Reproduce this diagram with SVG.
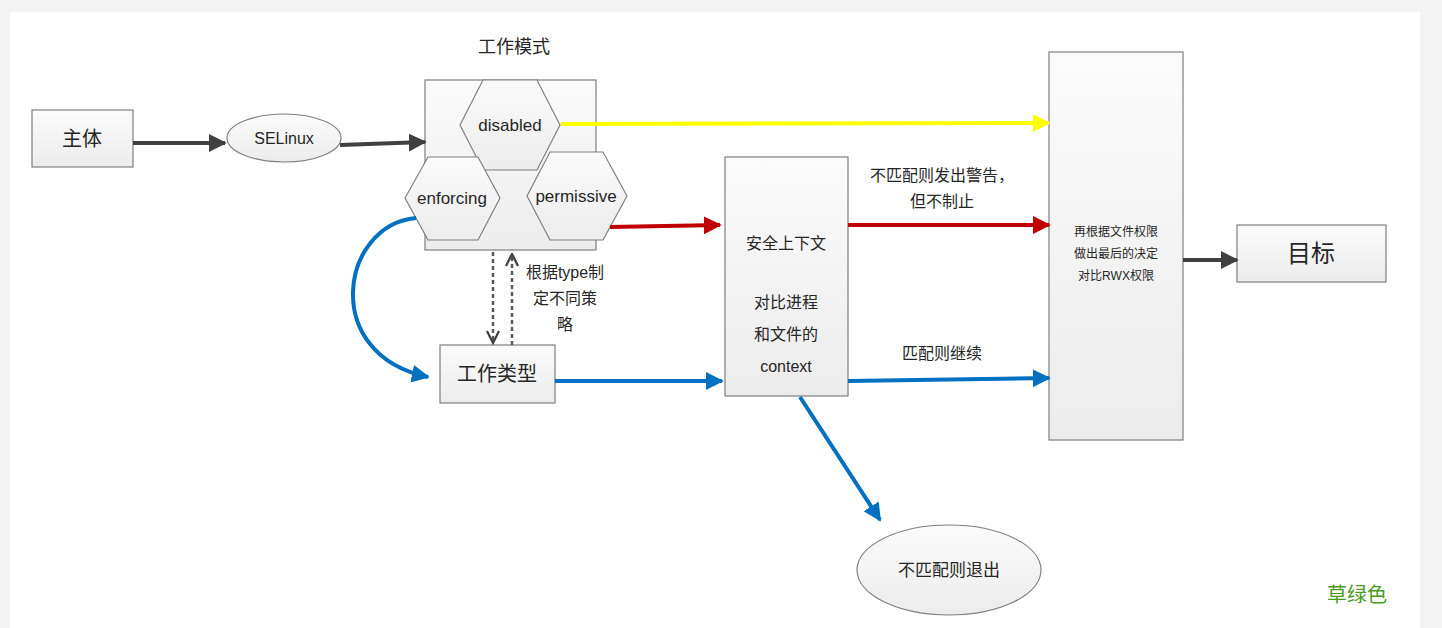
<svg xmlns="http://www.w3.org/2000/svg" width="1442" height="628" viewBox="0 0 1442 628">
<defs>
<linearGradient id="g" x1="0" y1="0" x2="0" y2="1"><stop offset="0" stop-color="#fbfbfb"/><stop offset="1" stop-color="#ececec"/></linearGradient>
<marker id="ak" viewBox="0 0 10 10" refX="9" refY="5" markerWidth="4.5" markerHeight="4.5" orient="auto"><path d="M0,0L10,5L0,10z" fill="#404040"/></marker>
<marker id="ay" viewBox="0 0 10 10" refX="9" refY="5" markerWidth="4.5" markerHeight="4.5" orient="auto"><path d="M0,0L10,5L0,10z" fill="#ffff00"/></marker>
<marker id="ar" viewBox="0 0 10 10" refX="9" refY="5" markerWidth="4.5" markerHeight="4.5" orient="auto"><path d="M0,0L10,5L0,10z" fill="#c00000"/></marker>
<marker id="ab" viewBox="0 0 10 10" refX="9" refY="5" markerWidth="4.5" markerHeight="4.5" orient="auto"><path d="M0,0L10,5L0,10z" fill="#0070c0"/></marker>
<marker id="ao" viewBox="0 0 10 10" refX="9" refY="5" markerWidth="6" markerHeight="6" orient="auto"><path d="M1,1L9,5L1,9" fill="none" stroke="#404040" stroke-width="1.5"/></marker>
</defs>
<style>
.box{fill:url(#g);stroke:#7f7f7f;stroke-width:1.2}
.t{font-family:"Liberation Sans","Noto Sans CJK SC",sans-serif;fill:#262626;text-anchor:middle}
.c{fill:none;stroke-width:4}
</style>
<rect width="1442" height="628" fill="#f3f3f3"/>
<rect x="10" y="12" width="1410" height="616" fill="#fff"/>
<g id="zhuti"><rect class="box" x="32" y="110" width="101" height="57"/><text class="t" x="82" y="146" font-size="20">主体</text></g>
<g id="selinux"><ellipse class="box" cx="284" cy="138" rx="57" ry="24"/><text class="t" x="284" y="144" font-size="16">SELinux</text></g>
<g id="mode">
<text class="t" x="514" y="53" font-size="18">工作模式</text>
<rect class="box" x="425" y="80" width="171" height="170"/>
<polygon class="box" points="460,125 483,80 537,80 560,125 537,170 483,170"/>
<text class="t" x="510" y="131" font-size="17">disabled</text>
<polygon class="box" points="405,198 428,157 478,157 500,198 478,240 428,240"/>
<text class="t" x="452" y="204" font-size="17">enforcing</text>
<polygon class="box" points="527,196 550,152 603,152 627,196 603,240 550,240"/>
<text class="t" x="576" y="202" font-size="17">permissive</text>
</g>
<g id="typelabel" class="t" font-size="16"><text x="565" y="278">根据type制</text><text x="565" y="304">定不同策</text><text x="565" y="330">略</text></g>
<g id="worktype"><rect class="box" x="440" y="345" width="115" height="58"/><text class="t" x="497" y="381" font-size="20">工作类型</text></g>
<g id="context"><rect class="box" x="725" y="157" width="123" height="239"/>
<g class="t" font-size="16"><text x="786" y="249">安全上下文</text><text x="786" y="308">对比进程</text><text x="786" y="340">和文件的</text><text x="786" y="372">context</text></g></g>
<g id="labels" class="t" font-size="16"><text x="942" y="181">不匹配则发出警告，</text><text x="942" y="207">但不制止</text><text x="942" y="359">匹配则继续</text></g>
<g id="final"><rect class="box" x="1049" y="52" width="134" height="388"/>
<g class="t" font-size="12" fill="#404040"><text x="1116" y="236">再根据文件权限</text><text x="1116" y="258">做出最后的决定</text><text x="1116" y="280">对比RWX权限</text></g></g>
<g id="target"><rect class="box" x="1237" y="225" width="149" height="57"/><text class="t" x="1311" y="262" font-size="24">目标</text></g>
<g id="exit"><ellipse class="box" cx="949" cy="570" rx="92" ry="45"/><text class="t" x="949" y="576" font-size="17">不匹配则退出</text></g>
<g id="connectors">
<path class="c" d="M133,143H225" stroke="#404040" marker-end="url(#ak)"/>
<path class="c" d="M340,145L425,142" stroke="#404040" marker-end="url(#ak)"/>
<path class="c" d="M561,124L1049,123" stroke="#ffff00" marker-end="url(#ay)"/>
<path class="c" d="M610,227L720,225" stroke="#c00000" marker-end="url(#ar)"/>
<path class="c" d="M848,225H1049" stroke="#c00000" marker-end="url(#ar)"/>
<path class="c" d="M416,218C340,225 320,355 428,377" stroke="#0070c0" marker-end="url(#ab)"/>
<path class="c" d="M555,381H722" stroke="#0070c0" marker-end="url(#ab)"/>
<path class="c" d="M848,381L1049,378" stroke="#0070c0" marker-end="url(#ab)"/>
<path class="c" d="M800,397L880,520" stroke="#0070c0" marker-end="url(#ab)"/>
<path class="c" d="M1183,260H1237" stroke="#404040" marker-end="url(#ak)"/>
<path d="M493,252V343" fill="none" stroke="#595959" stroke-width="2.5" stroke-dasharray="4,3" marker-end="url(#ao)"/>
<path d="M512,345V254" fill="none" stroke="#595959" stroke-width="2.5" stroke-dasharray="4,3" marker-end="url(#ao)"/>
</g>
<text x="1357" y="602" font-size="20" fill="#4a9a1a" text-anchor="middle" font-family="Noto Sans CJK SC,sans-serif">草绿色</text>
</svg>
